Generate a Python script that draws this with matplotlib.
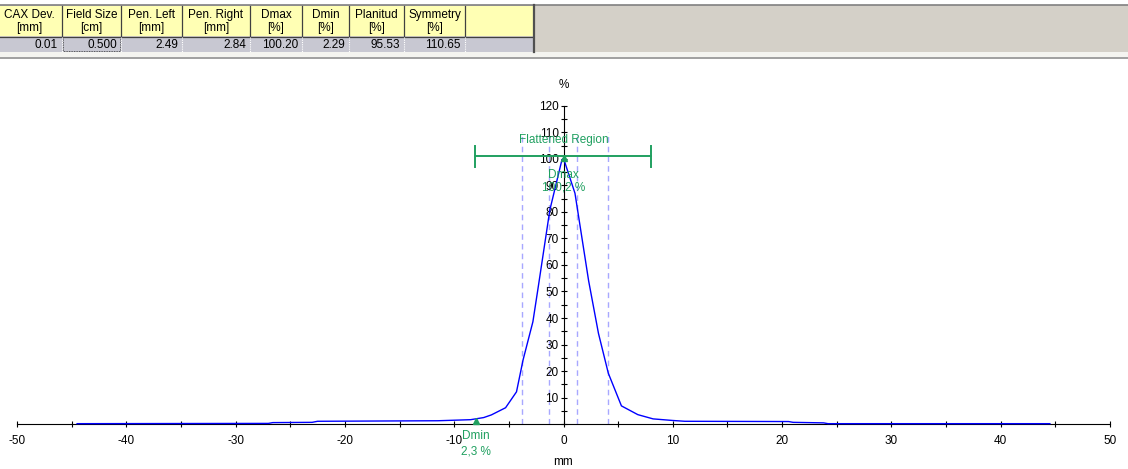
import matplotlib
matplotlib.use("Agg")
import matplotlib.pyplot as plt
from matplotlib.patches import Rectangle
from matplotlib.ticker import FixedLocator, MultipleLocator

plt.rcParams['font.family'] = ['Liberation Sans', 'DejaVu Sans']

# ---------------- data ----------------
header_top = ["CAX Dev.", "Field Size", "Pen. Left", "Pen. Right", "Dmax", "Dmin", "Planitud", "Symmetry", ""]
header_unit = ["[mm]", "[cm]", "[mm]", "[mm]", "[%]", "[%]", "[%]", "[%]", ""]
row_values = ["0.01", "0.500", "2.49", "2.84", "100.20", "2.29", "95.53", "110.65", ""]

pos_mm = [-44.5, -27.0, -26.6, -23.0, -22.5, -11.5, -8.5, -7.3, -6.6, -5.3, -4.3, -3.7,
          -2.8, -2.3, -1.25, -0.15, 0.0, 1.05, 2.3, 3.2, 4.1, 5.3, 6.8, 8.2, 10.0,
          11.1, 20.6, 21.0, 23.8, 24.2, 44.5]
dose_pct = [0.2, 0.3, 0.6, 0.7, 1.1, 1.3, 1.7, 2.5, 3.5, 6.2, 12.2, 24.2,
            38.6, 52.0, 80.7, 99.5, 100.2, 87.0, 54.0, 34.2, 19.2, 6.9, 3.6, 2.0, 1.4,
            1.1, 1.0, 0.7, 0.5, 0.2, 0.2]

penumbra_lines = [-3.83, -1.33, 1.2, 4.04]
flat_left, flat_right, flat_level = -8.1, 8.0, 101.0
dmax_x, dmax_val = 0.0, 100.2
dmin_x, dmin_val = -8.0, 2.3
dmin_marker_y = 1.3

x_ticks_major = list(range(-50, 51, 10))
y_ticks_major = list(range(10, 121, 10))

# ---------------- figure ----------------
W, H = 1128, 469
fig = plt.figure(figsize=(W / 100, H / 100), dpi=100)
fig.patch.set_facecolor('white')

green = '#20a060'
blue = '#0000ff'
dash_col = '#a8a8ff'

ax = fig.add_axes([17 / W, (H - 424.2) / H, 1093 / W, 318.5 / H])
ax.set_xlim(-50, 50)
ax.set_ylim(0, 120)
ax.set_facecolor('none')
for s in ['top', 'right']:
    ax.spines[s].set_visible(False)
ax.spines['left'].set_position(('data', 0))
ax.spines['left'].set_linewidth(0.8)
ax.spines['bottom'].set_linewidth(0.8)

ax.xaxis.set_major_locator(FixedLocator(x_ticks_major))
ax.xaxis.set_minor_locator(MultipleLocator(5))
ax.yaxis.set_major_locator(FixedLocator(y_ticks_major))
ax.yaxis.set_minor_locator(MultipleLocator(5))
ax.set_xticklabels([str(v) for v in x_ticks_major])
ax.tick_params(axis='both', which='both', direction='inout', length=5, width=0.8, labelsize=8.5)
ax.tick_params(axis='x', which='major', pad=5)
ax.tick_params(axis='y', which='major', pad=1)

for xv in penumbra_lines:
    ax.plot([xv, xv], [0, 110.2], color=dash_col, lw=1, ls=(0, (4, 3)), zorder=1)

ax.plot(pos_mm, dose_pct, color=blue, lw=1.0, zorder=3, clip_on=False)

# flattened region
ax.plot([flat_left, flat_right], [flat_level, flat_level], color=green, lw=1.4, zorder=4)
for xv in (flat_left, flat_right):
    ax.plot([xv, xv], [flat_level - 4, flat_level + 4], color=green, lw=1.4, zorder=4)
ax.text(0.05, 107.1, 'Flattened Region', color=green, ha='center', va='center', fontsize=8.5, zorder=5)

ax.plot([dmax_x], [dmax_val], marker='^', color=green, ms=5, zorder=5, clip_on=False)
ax.text(dmax_x, 93.9, 'Dmax', color=green, ha='center', va='center', fontsize=8.5, zorder=5)
ax.text(dmax_x, 89.0, '100,2 %', color=green, ha='center', va='center', fontsize=8.5, zorder=5)

ax.plot([dmin_x], [dmin_marker_y], marker='^', color=green, ms=5, zorder=5, clip_on=False)
ax.text(dmin_x, -4.4, 'Dmin', color=green, ha='center', va='center', fontsize=8.5,
        zorder=6, clip_on=False, bbox=dict(facecolor='white', edgecolor='none', pad=0.2))
ax.text(dmin_x, -10.1, '2,3 %', color=green, ha='center', va='center', fontsize=8.5,
        zorder=6, clip_on=False)

ax.text(0, 127.8, '%', ha='center', va='center', fontsize=8.5, clip_on=False)
ax.text(0, -14.2, 'mm', ha='center', va='center', fontsize=8.5, clip_on=False)

# ---------------- table strip ----------------
tab = fig.add_axes([0, 1 - 60 / H, 1, 60 / H])
tab.set_xlim(0, W)
tab.set_ylim(60, 0)
tab.axis('off')

col_edges = [0, 62, 121, 182, 250, 302, 349, 404, 465, 533]
tab.add_patch(Rectangle((0, 5.5), W, 46.5, facecolor='#d4d0c8', edgecolor='none'))
tab.plot([0, W], [5, 5], color='#808080', lw=1.2)
tab.add_patch(Rectangle((0, 6), 533, 30.5, facecolor='#ffffb4', edgecolor='none'))
tab.add_patch(Rectangle((0, 37), 533, 15, facecolor='#c8c8d2', edgecolor='none'))
tab.plot([0, 533], [36.6, 36.6], color='#404040', lw=0.9)
for xe in col_edges[1:-1]:
    tab.plot([xe, xe], [6, 36.6], color='#404040', lw=0.9)
    tab.plot([xe, xe], [37, 52], color='white', lw=0.8, ls=(0, (1, 1)))
tab.plot([534, 534], [5, 52.5], color='#505050', lw=1.6)
tab.add_patch(Rectangle((63, 37.5), 57, 14, facecolor='none', edgecolor='#303030',
                        lw=0.6, ls=(0, (1, 1))))
tab.add_patch(Rectangle((0, 52), W, 5, facecolor='#f4f4f0', edgecolor='none'))
tab.plot([0, W], [58, 58], color='#a0a0a0', lw=1.4)

for i in range(len(header_top)):
    l, r = col_edges[i], col_edges[i + 1]
    cx = (l + r) / 2 if i > 0 else 29
    tab.text(cx, 15, header_top[i], ha='center', va='center', fontsize=8.5)
    tab.text(cx, 28.5, header_unit[i], ha='center', va='center', fontsize=8.5)
    tab.text(r - 4, 44.5, row_values[i], ha='right', va='center', fontsize=8.5)

fig.savefig('out.png', dpi=100)
